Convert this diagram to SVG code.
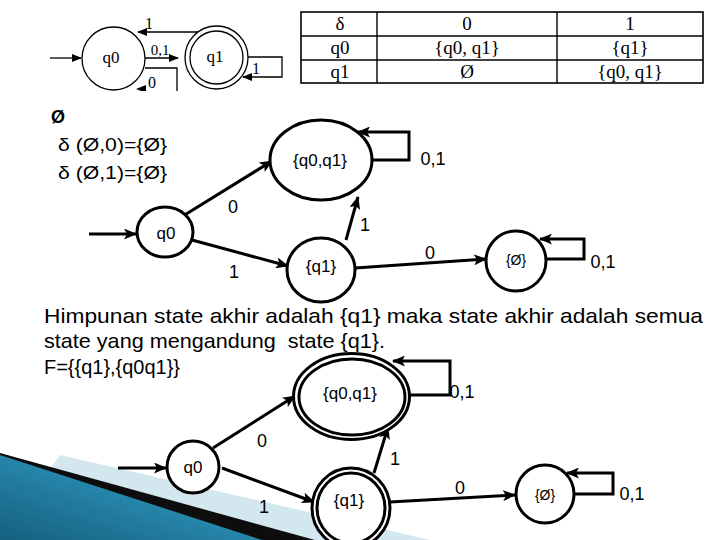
<svg xmlns="http://www.w3.org/2000/svg" width="720" height="540" viewBox="0 0 720 540">
<defs>
<style>
.sans{font-family:"Liberation Sans","DejaVu Sans",sans-serif;fill:#000}
.serif{font-family:"Liberation Serif","DejaVu Serif",serif;fill:#000}
.node{fill:#fff;stroke:#000;stroke-width:3}
.thin{fill:#fff;stroke:#000;stroke-width:1.3}
.edge{fill:none;stroke:#000;stroke-width:3;marker-end:url(#ah)}
.tedge{fill:none;stroke:#000;stroke-width:1.3;marker-end:url(#ahs)}
.lbl{font-size:18px;text-anchor:middle}
.nt{font-size:17px;text-anchor:middle}
.cell{font-size:19px;text-anchor:middle}
</style>
<marker id="ah" markerUnits="userSpaceOnUse" markerWidth="13" markerHeight="11" refX="12" refY="5.5" orient="auto"><path d="M0,0 L13,5.5 L0,11 L3,5.5 z" fill="#000"/></marker>
<marker id="ahs" markerUnits="userSpaceOnUse" markerWidth="10" markerHeight="8" refX="9" refY="4" orient="auto"><path d="M0,0 L10,4 L0,8 z" fill="#000"/></marker>
<linearGradient id="blue" x1="0" y1="1" x2="1" y2="0"><stop offset="0" stop-color="#15607f"/><stop offset="0.6" stop-color="#2a8db3"/><stop offset="1" stop-color="#5cbcdc"/></linearGradient>
<clipPath id="clipTop"><rect x="40" y="0" width="258" height="91"/></clipPath>
</defs>
<rect width="720" height="540" fill="#fff"/>

<!-- decoration -->
<g id="decoration">
<polygon points="60,455 430,540 0,540" fill="#d3e7ee"/>
<polygon points="0,453 315,540 0,540" fill="#0d0d0d"/>
<polygon points="0,455 262,540 0,540" fill="url(#blue)"/>
</g>

<!-- top-left small automaton -->
<g id="small-nfa" clip-path="url(#clipTop)">
<g id="s-connectors">
<line class="tedge" x1="50" y1="58" x2="81" y2="58"/>
<line class="tedge" x1="145" y1="58" x2="178" y2="58"/>
<path class="tedge" d="M200,32 H138"/>
<path class="tedge" d="M248,57 H282 V77 H243"/>
<path d="M145,68 H177 V95" fill="none" stroke="#000" stroke-width="1.3"/>
<polygon points="136,89 146,85 146,93" fill="#000"/>
</g>
<g id="s-q0"><circle class="thin" cx="113.5" cy="58.5" r="31.5"/><text class="serif" x="111" y="63" font-size="17" text-anchor="middle">q0</text></g>
<g id="s-q1"><circle class="thin" cx="216.5" cy="57.5" r="31.5"/><circle fill="none" stroke="#000" stroke-width="1.3" cx="216.5" cy="57.5" r="26.5"/><text class="serif" x="215" y="62" font-size="17" text-anchor="middle">q1</text></g>
<text class="serif" x="149" y="29" font-size="16" text-anchor="middle">1</text>
<text class="serif" x="160" y="55" font-size="15" text-anchor="middle">0,1</text>
<text class="serif" x="256" y="74" font-size="16" text-anchor="middle">1</text>
<text class="serif" x="152" y="88" font-size="16" text-anchor="middle">0</text>
</g>

<!-- transition table -->
<g id="table">
<rect x="301" y="12" width="402" height="71" fill="#fff" stroke="#000" stroke-width="1.6"/>
<line x1="301" y1="36" x2="703" y2="36" stroke="#000" stroke-width="1.4"/>
<line x1="301" y1="60" x2="703" y2="60" stroke="#000" stroke-width="1.4"/>
<line x1="377" y1="12" x2="377" y2="83" stroke="#000" stroke-width="1.4"/>
<line x1="557" y1="12" x2="557" y2="83" stroke="#000" stroke-width="1.4"/>
<text class="serif cell" x="340" y="30">δ</text>
<text class="serif cell" x="467" y="30">0</text>
<text class="serif cell" x="630" y="30">1</text>
<text class="serif cell" x="340" y="54">q0</text>
<text class="serif cell" x="467" y="54">{q0, q1}</text>
<text class="serif cell" x="630" y="54">{q1}</text>
<text class="serif cell" x="340" y="78">q1</text>
<text class="serif cell" x="467" y="78">Ø</text>
<text class="serif cell" x="630" y="78">{q0, q1}</text>
</g>

<!-- empty-set notes -->
<g id="notes">
<text class="sans" x="51" y="123" font-size="18" font-weight="bold">Ø</text>
<text class="sans" x="58" y="151" font-size="19" textLength="109" lengthAdjust="spacingAndGlyphs">δ (Ø,0)={Ø}</text>
<text class="sans" x="58" y="179" font-size="19" textLength="109" lengthAdjust="spacingAndGlyphs">δ (Ø,1)={Ø}</text>
</g>

<!-- middle DFA -->
<g id="connectors-mid">
<line class="edge" x1="89" y1="234" x2="136" y2="234"/>
<line class="edge" x1="183" y1="216" x2="272" y2="161"/>
<line class="edge" x1="192" y1="240" x2="288" y2="266"/>
<line class="edge" x1="346" y1="240" x2="358" y2="197"/>
<line class="edge" x1="355" y1="268" x2="486" y2="259"/>
<path class="edge" d="M372,160 H409 V132 H358"/>
<path class="edge" d="M546,259 H584 V239 H540"/>
<text class="sans lbl" x="433" y="165">0,1</text>
<text class="sans lbl" x="233" y="213">0</text>
<text class="sans lbl" x="234" y="278">1</text>
<text class="sans lbl" x="365" y="231">1</text>
<text class="sans lbl" x="430" y="259">0</text>
<text class="sans lbl" x="603" y="268">0,1</text>
</g>
<g id="m-q0"><ellipse class="node" cx="165" cy="232" rx="28" ry="25"/><text class="sans nt" x="166" y="239">q0</text></g>
<g id="m-q0q1"><ellipse class="node" cx="321" cy="160" rx="51" ry="40"/><text class="sans nt" x="320" y="166">{q0,q1}</text></g>
<g id="m-q1"><ellipse class="node" cx="321" cy="270" rx="34" ry="32"/><text class="sans nt" x="321" y="272">{q1}</text></g>
<g id="m-empty"><circle class="node" cx="516" cy="261" r="30"/><text class="sans" x="516" y="265" font-size="14" text-anchor="middle">{Ø}</text></g>

<!-- paragraph -->
<g id="paragraph">
<text class="sans" x="44" y="323" font-size="21" textLength="659" lengthAdjust="spacingAndGlyphs">Himpunan state akhir adalah {q1} maka state akhir adalah semua</text>
<text class="sans" x="44" y="348" font-size="21" textLength="341" lengthAdjust="spacingAndGlyphs" xml:space="preserve">state yang mengandung  state {q1}.</text>
<text class="sans" x="44" y="374" font-size="21" textLength="136" lengthAdjust="spacingAndGlyphs">F={{q1},{q0q1}}</text>
</g>

<!-- bottom DFA -->
<g id="connectors-bot">
<line class="edge" x1="118" y1="468" x2="166" y2="468"/>
<line class="edge" x1="213" y1="448" x2="295" y2="396"/>
<line class="edge" x1="222" y1="468" x2="314" y2="502"/>
<line class="edge" x1="374" y1="473" x2="388" y2="427"/>
<line class="edge" x1="390" y1="502" x2="515" y2="495"/>
<path class="edge" d="M410,395 H450 V361 H393"/>
<path class="edge" d="M574,494 H613 V473 H567"/>
<text class="sans lbl" x="462" y="398">0,1</text>
<text class="sans lbl" x="262" y="447">0</text>
<text class="sans lbl" x="264" y="513">1</text>
<text class="sans lbl" x="395" y="465">1</text>
<text class="sans lbl" x="460" y="494">0</text>
<text class="sans lbl" x="632" y="500">0,1</text>
</g>
<g id="b-q0"><circle class="node" cx="193" cy="467" r="26"/><text class="sans nt" x="193" y="473">q0</text></g>
<g id="b-q0q1"><ellipse class="node" cx="351.5" cy="396.5" rx="58" ry="43"/><ellipse fill="none" stroke="#000" stroke-width="3" cx="352" cy="397" rx="53" ry="38"/><text class="sans nt" x="350" y="399">{q0,q1}</text></g>
<g id="b-q1"><ellipse class="node" cx="351" cy="508" rx="39" ry="40"/><ellipse fill="none" stroke="#000" stroke-width="3" cx="351" cy="508" rx="34" ry="35"/><text class="sans nt" x="349" y="506">{q1}</text></g>
<g id="b-empty"><circle class="node" cx="545" cy="494" r="29"/><text class="sans" x="545" y="500" font-size="14" text-anchor="middle">{Ø}</text></g>
</svg>
